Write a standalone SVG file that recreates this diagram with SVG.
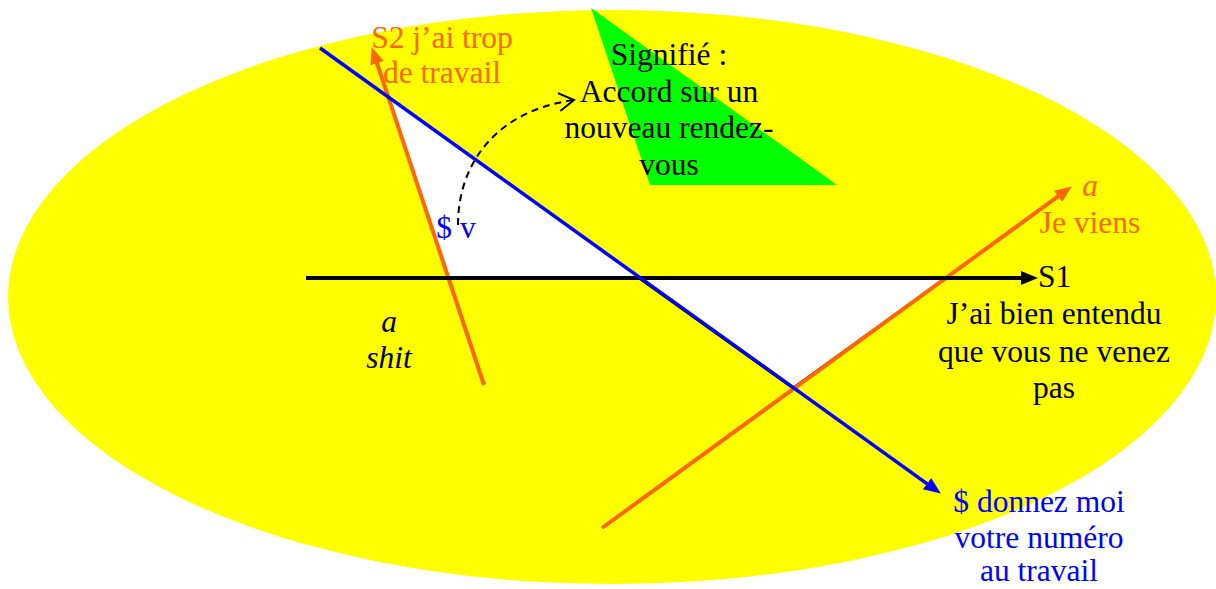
<svg xmlns="http://www.w3.org/2000/svg" width="1216" height="589" viewBox="0 0 1216 589">
<style>
text{font-family:"Liberation Serif","Times New Roman",serif;font-size:31.5px;text-anchor:middle}
.or{fill:#FF6600}.bl{fill:#0000FF}.bk{fill:#000}
.it{font-style:italic}
</style>
<defs>
<marker id="ahO" markerUnits="userSpaceOnUse" markerWidth="20" markerHeight="16" refX="8" refY="7" orient="auto"><path d="M0,0 L17,7 L0,14 z" fill="#FF6600"/></marker>
<marker id="ahB" markerUnits="userSpaceOnUse" markerWidth="20" markerHeight="16" refX="8" refY="7" orient="auto"><path d="M0,0 L17,7 L0,14 z" fill="#0000FF"/></marker>
<marker id="ahK" markerUnits="userSpaceOnUse" markerWidth="20" markerHeight="16" refX="8" refY="7" orient="auto"><path d="M0,0 L17,7 L0,14 z" fill="#000"/></marker>
<marker id="ahOpen" markerUnits="userSpaceOnUse" markerWidth="20" markerHeight="24" refX="16" refY="10" orient="auto"><path d="M1,1 L16,10 L1,19" fill="none" stroke="#000" stroke-width="2"/></marker>
</defs>
<g id="background">
<ellipse cx="612" cy="297" rx="604" ry="287" fill="#FFFF00"/>
<polygon points="591,8 650,185 837,185" fill="#00FF00"/>
<polygon points="388.5,97 640,278 448,278" fill="#FFFFFF"/>
<polygon points="638,278 945,278 792,388" fill="#FFFFFF" stroke="#000" stroke-width="1.5"/>
</g>
<g id="connectors" fill="none">
<line x1="484" y1="385" x2="374.5" y2="55.6" stroke="#FF6600" stroke-width="4" marker-end="url(#ahO)"/>
<line x1="602" y1="528" x2="1064.5" y2="191.7" stroke="#FF6600" stroke-width="4" marker-end="url(#ahO)"/>
<line x1="306" y1="278" x2="1029" y2="278" stroke="#000" stroke-width="4" marker-end="url(#ahK)"/>
<line x1="320" y1="48" x2="933.5" y2="488.3" stroke="#0000FF" stroke-width="3.5" marker-end="url(#ahB)"/>
<path d="M458,225 C458,160 500,110 574,100" stroke="#000" stroke-width="2" stroke-dasharray="7,5" marker-end="url(#ahOpen)"/>
</g>
<g id="s2"><text class="or" x="442" y="48">S2 j’ai trop</text><text class="or" x="442" y="83">de travail</text></g>
<g id="signifie" class="bk"><text x="669" y="65">Signifié :</text><text x="669" y="102">Accord sur un</text><text x="669" y="138">nouveau rendez-</text><text x="669" y="175">vous</text></g>
<g id="sv"><text class="bl" x="456" y="238">$ v</text></g>
<g id="a-shit"><text class="bk it" x="389" y="332">a</text><text class="bk it" x="389" y="368">shit</text></g>
<g id="a-je-viens"><text class="or it" x="1090" y="196">a</text><text class="or" x="1090" y="233">Je viens</text></g>
<g id="s1"><text class="bk" x="1038" y="287" style="text-anchor:start">S1</text><text class="bk" x="1054" y="324">J’ai bien entendu</text><text class="bk" x="1054" y="362">que vous ne venez</text><text class="bk" x="1054" y="398">pas</text></g>
<g id="donnez"><text class="bl" x="1039" y="512">$ donnez moi</text><text class="bl" x="1039" y="548">votre numéro</text><text class="bl" x="1039" y="581">au travail</text></g>
</svg>
